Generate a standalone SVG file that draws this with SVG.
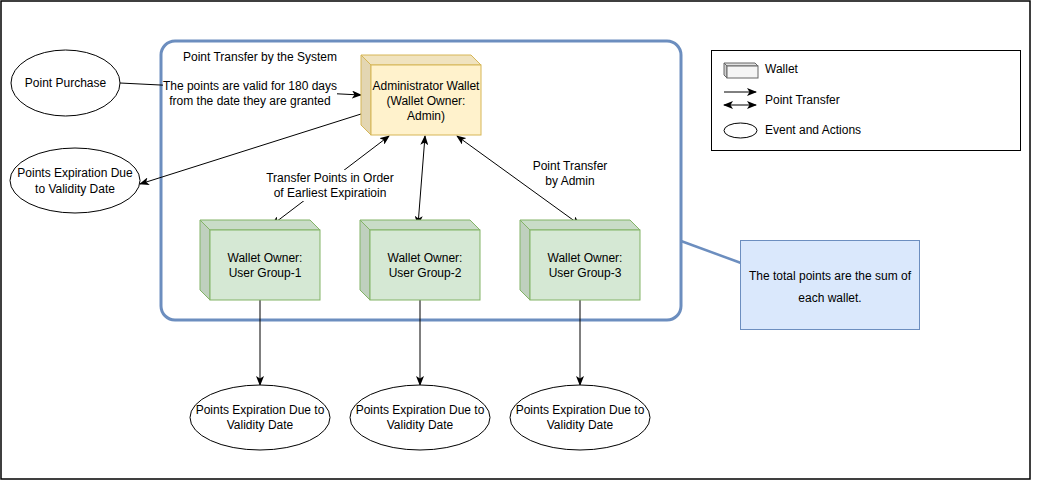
<svg xmlns="http://www.w3.org/2000/svg" width="1051" height="481" viewBox="0 0 1051 481">
<defs>
<style>
text{font-family:"Liberation Sans",Arial,sans-serif;font-size:12px;fill:#000;dominant-baseline:central}
.c{text-anchor:middle}
.ln{fill:none;stroke:#000;stroke-width:1}
.ell{fill:#fff;stroke:#000;stroke-width:1}
.y .f{fill:#fff2cc;stroke:#d6b656}
.y .t{fill:#f0e3bf;stroke:#d6b656}
.y .s{fill:#e3d6b2;stroke:#d6b656}
.g .f{fill:#d5e8d4;stroke:#82b366}
.g .t{fill:#c9dcc8;stroke:#82b366}
.g .s{fill:#bfd0be;stroke:#82b366}
.lab{fill:#fff}
</style>
<marker id="ah" viewBox="0 0 10 8" refX="9" refY="4" markerWidth="10" markerHeight="8" markerUnits="userSpaceOnUse" orient="auto-start-reverse">
<path d="M0,0 L10,4 L0,8 L2.5,4 z" fill="#000"/>
</marker>
</defs>
<rect x="0" y="0" width="1051" height="481" fill="#fff"/>
<rect id="border" x="1" y="1" width="1029" height="478" fill="#fff" stroke="#000" stroke-width="1.5"/>

<g id="container">
<rect x="161" y="41" width="520" height="279" rx="14" fill="none" stroke="#6c8ebf" stroke-width="3"/>
<text class="c" x="260" y="57">Point Transfer by the System</text>
</g>

<g id="connectors">
<path class="ln" d="M120,83 L361,95" marker-end="url(#ah)"/>
<path class="ln" d="M361,114 L140,184" marker-end="url(#ah)"/>
<path class="ln" d="M389,136 L272,225" marker-start="url(#ah)" marker-end="url(#ah)"/>
<path class="ln" d="M425,136 L418,225" marker-start="url(#ah)" marker-end="url(#ah)"/>
<path class="ln" d="M457,136 L580,225" marker-start="url(#ah)" marker-end="url(#ah)"/>
<path class="ln" d="M260,300 L260,385" marker-end="url(#ah)"/>
<path class="ln" d="M420,300 L420,385" marker-end="url(#ah)"/>
<path class="ln" d="M580,300 L580,385" marker-end="url(#ah)"/>
<path d="M681,241 L741,263" fill="none" stroke="#6c8ebf" stroke-width="2.5"/>
<rect class="lab" x="163" y="78" width="174" height="31"/>
<text class="c" x="250" y="86">The points are valid for 180 days</text>
<text class="c" x="250" y="101">from the date they are granted</text>
<rect class="lab" x="265" y="170" width="130" height="31"/>
<text class="c" x="330" y="178">Transfer Points in Order</text>
<text class="c" x="330" y="193">of Earliest Expiratioin</text>
<text class="c" x="570" y="166">Point Transfer</text>
<text class="c" x="570" y="181">by Admin</text>
</g>

<g id="point-purchase">
<ellipse class="ell" cx="65.5" cy="83" rx="54.5" ry="33"/>
<text class="c" x="65.5" y="83">Point Purchase</text>
</g>
<g id="expire-admin">
<ellipse class="ell" cx="75" cy="180.5" rx="65" ry="32.5"/>
<text class="c" x="75" y="173">Points Expiration Due</text>
<text class="c" x="75" y="189">to Validity Date</text>
</g>

<g id="admin-wallet" class="y">
<path class="t" d="M361,55 L471,55 L481,65 L371,65 Z"/>
<path class="s" d="M361,55 L371,65 L371,135 L361,125 Z"/>
<rect class="f" x="371" y="65" width="110" height="70"/>
<text class="c" x="426" y="86">Administrator Wallet</text>
<text class="c" x="426" y="101">(Wallet Owner:</text>
<text class="c" x="426" y="116">Admin)</text>
</g>

<g id="wallet-1" class="g">
<path class="t" d="M200,220 L310,220 L320,230 L210,230 Z"/>
<path class="s" d="M200,220 L210,230 L210,300 L200,290 Z"/>
<rect class="f" x="210" y="230" width="110" height="70"/>
<text class="c" x="265" y="258">Wallet Owner:</text>
<text class="c" x="265" y="273">User Group-1</text>
</g>
<g id="wallet-2" class="g">
<path class="t" d="M360,220 L470,220 L480,230 L370,230 Z"/>
<path class="s" d="M360,220 L370,230 L370,300 L360,290 Z"/>
<rect class="f" x="370" y="230" width="110" height="70"/>
<text class="c" x="425" y="258">Wallet Owner:</text>
<text class="c" x="425" y="273">User Group-2</text>
</g>
<g id="wallet-3" class="g">
<path class="t" d="M520,220 L630,220 L640,230 L530,230 Z"/>
<path class="s" d="M520,220 L530,230 L530,300 L520,290 Z"/>
<rect class="f" x="530" y="230" width="110" height="70"/>
<text class="c" x="585" y="258">Wallet Owner:</text>
<text class="c" x="585" y="273">User Group-3</text>
</g>

<g id="expire-1">
<ellipse class="ell" cx="260" cy="417.5" rx="70" ry="32.5"/>
<text class="c" x="260" y="410">Points Expiration Due to</text>
<text class="c" x="260" y="425">Validity Date</text>
</g>
<g id="expire-2">
<ellipse class="ell" cx="420" cy="417.5" rx="70" ry="32.5"/>
<text class="c" x="420" y="410">Points Expiration Due to</text>
<text class="c" x="420" y="425">Validity Date</text>
</g>
<g id="expire-3">
<ellipse class="ell" cx="580" cy="417.5" rx="70" ry="32.5"/>
<text class="c" x="580" y="410">Points Expiration Due to</text>
<text class="c" x="580" y="425">Validity Date</text>
</g>

<g id="legend">
<rect x="711.5" y="50.5" width="309" height="100" fill="#fff" stroke="#000" stroke-width="1"/>
<path d="M724,63 L755,63 L758,66 L727,66 Z" fill="#e0e0e0" stroke="#666"/>
<path d="M724,63 L727,66 L727,78 L724,75 Z" fill="#cfcfcf" stroke="#666"/>
<rect x="727" y="66" width="31" height="12" fill="#f5f5f5" stroke="#666"/>
<text x="765" y="69">Wallet</text>
<path class="ln" d="M724,92 L756,92" marker-end="url(#ah)"/>
<path class="ln" d="M724,105 L756,105" marker-start="url(#ah)" marker-end="url(#ah)"/>
<text x="765" y="100">Point Transfer</text>
<ellipse class="ell" cx="740.5" cy="130.5" rx="16.5" ry="7.5"/>
<text x="765" y="130">Event and Actions</text>
</g>

<g id="note">
<rect x="740.5" y="240.5" width="179" height="89" fill="#dae8fc" stroke="#6c8ebf" stroke-width="1"/>
<text class="c" x="830" y="276">The total points are the sum of</text>
<text class="c" x="830" y="298">each wallet.</text>
</g>
</svg>
